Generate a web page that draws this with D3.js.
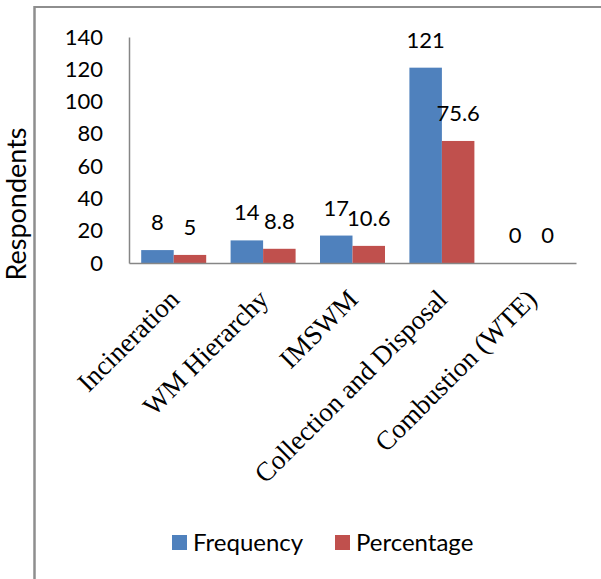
<!DOCTYPE html>
<html>
<head>
<meta charset="utf-8">
<script src="https://cdn.jsdelivr.net/npm/d3@7"></script>
<style>
  html, body { margin: 0; padding: 0; background: #fff; }
  svg { display: block; }
</style>
</head>
<body>
<div id="chart"></div>
<script>
const categories = ["Incineration", "WM Hierarchy", "IMSWM", "Collection and Disposal", "Combustion (WTE)"];
const seriesNames = ["Frequency", "Percentage"];
const frequency = [8, 14, 17, 121, 0];
const percentage = [5, 8.8, 10.6, 75.6, 0];
const yTicks = [0, 20, 40, 60, 80, 100, 120, 140];
const colors = ["#4F81BD", "#C0504D"];

const W = 601, H = 579;
const svg = d3.select("#chart").append("svg").attr("width", W).attr("height", H);

const sansFont = "Lato, 'Open Sans', sans-serif";
const serifFont = "'Liberation Serif', 'Times New Roman', serif";

// frame (top and left lines of the chart border)
svg.append("line").attr("x1", 34.5).attr("x2", W).attr("y1", 7).attr("y2", 7)
  .attr("stroke", "#8e8e8e").attr("stroke-width", 2.2);
svg.append("line").attr("x1", 34.5).attr("x2", 34.5).attr("y1", 6).attr("y2", H)
  .attr("stroke", "#8e8e8e").attr("stroke-width", 2.5);

const plot = { left: 129, right: 576, top: 37, bottom: 263 };

const x0 = d3.scaleBand().domain(categories)
  .range([plot.left, plot.right]).paddingInner(0.273).paddingOuter(0.1365);
const x1 = d3.scaleBand().domain(seriesNames).range([0, x0.bandwidth()]);
const y = d3.scaleLinear().domain([0, 140]).range([plot.bottom, plot.top]);

// y axis
const yAxis = d3.axisLeft(y).tickValues(yTicks).tickSize(0).tickPadding(26);
const gy = svg.append("g").attr("transform", `translate(${plot.left},0)`).call(yAxis);
gy.select(".domain").attr("stroke", "#868686").attr("stroke-width", 1.5);
gy.selectAll("text").attr("font-family", sansFont).attr("font-size", 22).attr("fill", "#000");

// bars
const data = categories.map((c, i) => ({ cat: c, vals: [frequency[i], percentage[i]] }));
const groups = svg.append("g").selectAll("g").data(data).join("g")
  .attr("transform", d => `translate(${x0(d.cat)},0)`);

groups.selectAll("rect").data(d => d.vals.map((v, j) => ({ v, s: seriesNames[j], j })))
  .join("rect")
  .attr("x", d => x1(d.s))
  .attr("width", x1.bandwidth())
  .attr("y", d => y(d.v))
  .attr("height", d => y(0) - y(d.v))
  .attr("fill", d => colors[d.j]);

groups.selectAll("text.val").data(d => d.vals.map((v, j) => ({ v, s: seriesNames[j], j })))
  .join("text").attr("class", "val")
  .attr("x", d => x1(d.s) + x1.bandwidth() / 2)
  .attr("y", d => y(d.v) - 20)
  .attr("text-anchor", "middle")
  .attr("font-family", sansFont).attr("font-size", 22).attr("fill", "#000")
  .text(d => d.v);

// x axis line
const xAxis = d3.axisBottom(x0).tickSize(0).tickFormat("");
const gx = svg.append("g").attr("transform", `translate(0,${plot.bottom})`).call(xAxis);
gx.select(".domain").attr("stroke", "#868686").attr("stroke-width", 1.5);

// category labels rotated
svg.append("g").selectAll("text").data(categories).join("text")
  .attr("transform", d => `translate(${x0(d) + x0.bandwidth() / 2 + 7},${plot.bottom + 38}) rotate(-45)`)
  .attr("text-anchor", "end")
  .attr("font-family", serifFont).attr("font-size", 27).attr("fill", "#000")
  .text(d => d);

// y title
svg.append("text")
  .attr("transform", `translate(26,204) rotate(-90)`)
  .attr("text-anchor", "middle")
  .attr("font-family", sansFont).attr("font-size", 27).attr("fill", "#000")
  .text("Respondents");

// legend
const legendX = [172, 335];
const lg = svg.append("g").selectAll("g").data(seriesNames).join("g")
  .attr("transform", (d, i) => `translate(${legendX[i]},535)`);
lg.append("rect").attr("width", 15).attr("height", 15).attr("fill", (d, i) => colors[i]);
lg.append("text").attr("x", 21).attr("y", 16)
  .attr("font-family", sansFont).attr("font-size", 24).attr("fill", "#000")
  .text(d => d);
</script>
</body>
</html>
